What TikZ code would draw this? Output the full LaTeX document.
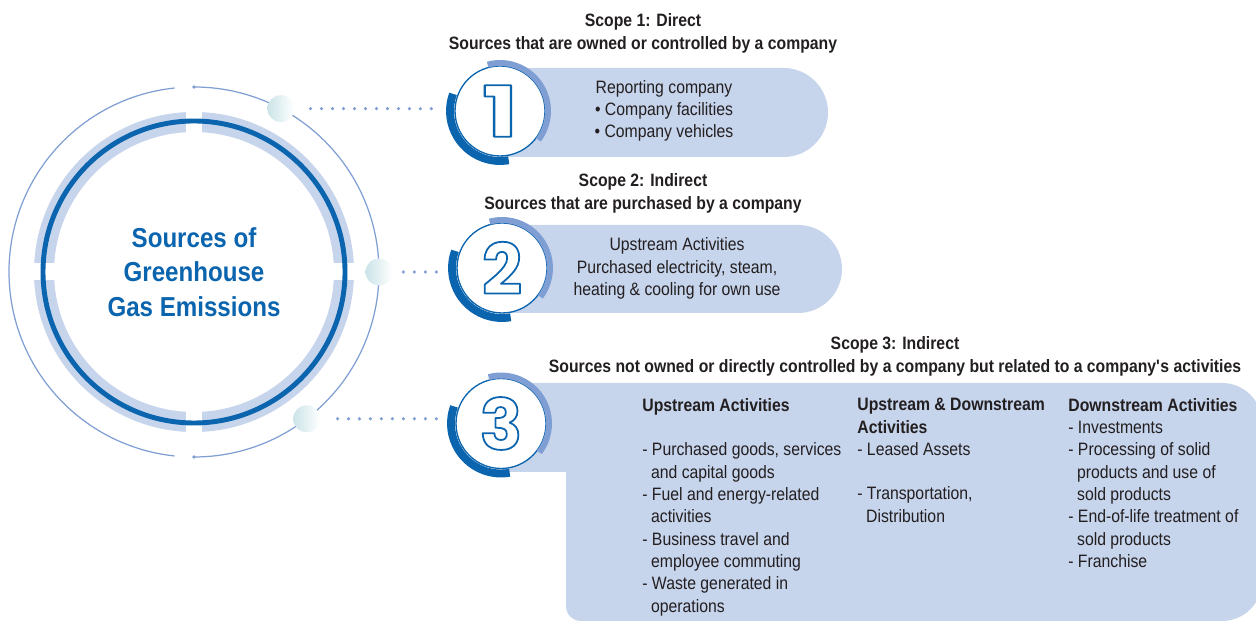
\documentclass[tikz,border=0pt]{standalone}
\usepackage{fontspec}
\setmainfont{Liberation Sans}[FakeStretch=0.88]
\newfontfamily\numfont{Poppins}
\usepackage{graphicx}
\usetikzlibrary{positioning,calc}
\definecolor{ringblue}{HTML}{0A64AE}
\definecolor{midblue}{HTML}{7F9ED3}
\definecolor{paleblue}{HTML}{C6D4EC}
\definecolor{ballcyan}{HTML}{CBE4E8}
\definecolor{txtgray}{HTML}{231F20}
\newcommand\bodyfont{\fontsize{10.2}{12.7}\selectfont}
\newcommand\cont{\hspace*{5pt}}
\newcommand\hollow[1]{\special{pdf:literal direct 2 Tr 1 w 1 j 0.039 0.392 0.682 RG}#1\special{pdf:literal direct 0 Tr}}
\tikzset{
  numring/.style={circle, draw=ringblue, line width=0.75pt, fill=white, minimum size=1.8cm, inner sep=0pt, text=white, font=\numfont\bfseries\fontsize{40}{40}\selectfont},
  ball/.style={circle, minimum size=0.54cm, inner sep=0pt, left color=ballcyan, right color=white},
  dotline/.style={midblue, line width=2pt, line cap=round, dash pattern=on 0pt off 6.25pt},
  head/.style={font=\bfseries\fontsize{10.2}{13.3}\selectfont, align=center, inner sep=0pt, anchor=north, text=txtgray},
  boxtext/.style={font=\bodyfont, align=center, inner sep=0pt, text=txtgray},
  col/.style={font=\bodyfont, align=left, inner sep=0pt, anchor=north west, text=txtgray},
  darkarc/.style={ringblue, line width=4.5pt},
  lightarc/.style={midblue, line width=3.4pt},
}
\begin{document}
\begin{tikzpicture}[x=0.02cm, y=0.02cm]
  \useasboundingbox (0,0) rectangle (1256,621);
  % big circle
  \coordinate (c) at (194,349);
  \draw[paleblue, line width=11.4pt] (c) circle[radius=150];
  \fill[white] ($(c)+(-8,-165)$) rectangle ($(c)+(8,165)$);
  \fill[white] ($(c)+(-165,-8.5)$) rectangle ($(c)+(165,8.5)$);
  \draw[ringblue, line width=2.8pt] (c) circle[radius=151];
  \draw[midblue, line width=0.7pt] ($(c)+(-90:185)$) arc[start angle=-90, end angle=90, radius=185];
  \draw[midblue, line width=0.7pt] ($(c)+(96:185)$) arc[start angle=96, end angle=264, radius=185];
  \fill[midblue] ($(c)+(90:185)$) circle[radius=1.8] ($(c)+(-90:185)$) circle[radius=1.8];
  \node[font=\bfseries\fontsize{15.6}{19.8}\selectfont, text=ringblue, align=center] (title) at (c) {Sources of\\Greenhouse\\Gas Emissions};
  % scope boxes
  \fill[paleblue] (500,553) -- (783.5,553) arc[start angle=90, end angle=-90, radius=44.5] -- (500,464) -- cycle;
  \fill[paleblue] (500,396) -- (798,396) arc[start angle=90, end angle=-90, radius=44] -- (500,308) -- cycle;
  \fill[paleblue] (500,238) -- (1222,238) arc[start angle=90, end angle=0, radius=40] -- (1262,40)
    arc[start angle=0, end angle=-90, radius=40] -- (581,0) arc[start angle=270, end angle=180, radius=15] -- (566,149) -- (500,149) -- cycle;
  % number circles
  \node[numring] (n1) at (500,510) {\scalebox{1.35}[1]{\hollow{1}}};
  \node[numring] (n2) at (502,353) {\hollow{2}};
  \node[numring] (n3) at (501,197.5) {\hollow{3}};
  \foreach \n in {n1,n2,n3}{
    \draw[darkarc] (\n.center) ++(160:50) arc[start angle=160, end angle=280, radius=50];
    \draw[lightarc] (\n.center) ++(105:48) arc[start angle=105, end angle=-37, radius=48];
  }
  % balls and dotted links
  \node[ball] (b1) at ($(c)+(62:185)$) {};
  \node[ball] (b2) at ($(c)+(0:185)$) {};
  \node[ball] (b3) at ($(c)+(-52.5:185)$) {};
  \draw[dotline, shorten <=0.46cm, shorten >=0.55cm] (b1 -| n1.west) -- (b1.center);
  \draw[dotline, shorten <=0.4cm, shorten >=0.36cm] (b2 -| n2.west) -- (b2.center);
  \draw[dotline, shorten <=0.38cm, shorten >=0.42cm] (b3 -| n3.west) -- (b3.center);
  % texts
  \node[head] (h1) at (643,608) {Scope 1: Direct\\Sources that are owned or controlled by a company};
  \node[head] (h2) at (643,448) {Scope 2: Indirect\\Sources that are purchased by a company};
  \node[head] (h3) at (895,285) {Scope 3: Indirect\\Sources not owned or directly controlled by a company but related to a company\textquotesingle s activities};
  \node[boxtext] (t1) at (664,510) {Reporting company\\• Company facilities\\• Company vehicles};
  \node[boxtext] (t2) at (677,352.5) {Upstream Activities\\Purchased electricity, steam,\\heating \& cooling for own use};
  \node[col] (up) at (642,223) {{\bfseries Upstream Activities}\\[12.7pt]
    - Purchased goods, services\\\cont and capital goods\\- Fuel and energy-related\\\cont activities\\
    - Business travel and\\\cont employee commuting\\- Waste generated in\\\cont operations};
  \node[col] (updown) at (857,223) {{\bfseries Upstream \& Downstream}\\{\bfseries Activities}\\
    - Leased Assets\\[12.7pt]- Transportation,\\\cont Distribution};
  \node[col] (down) at (1068,223) {{\bfseries Downstream Activities}\\- Investments\\- Processing of solid\\
    \cont products and use of\\\cont sold products\\- End-of-life treatment of\\\cont sold products\\- Franchise};
\end{tikzpicture}
\end{document}
